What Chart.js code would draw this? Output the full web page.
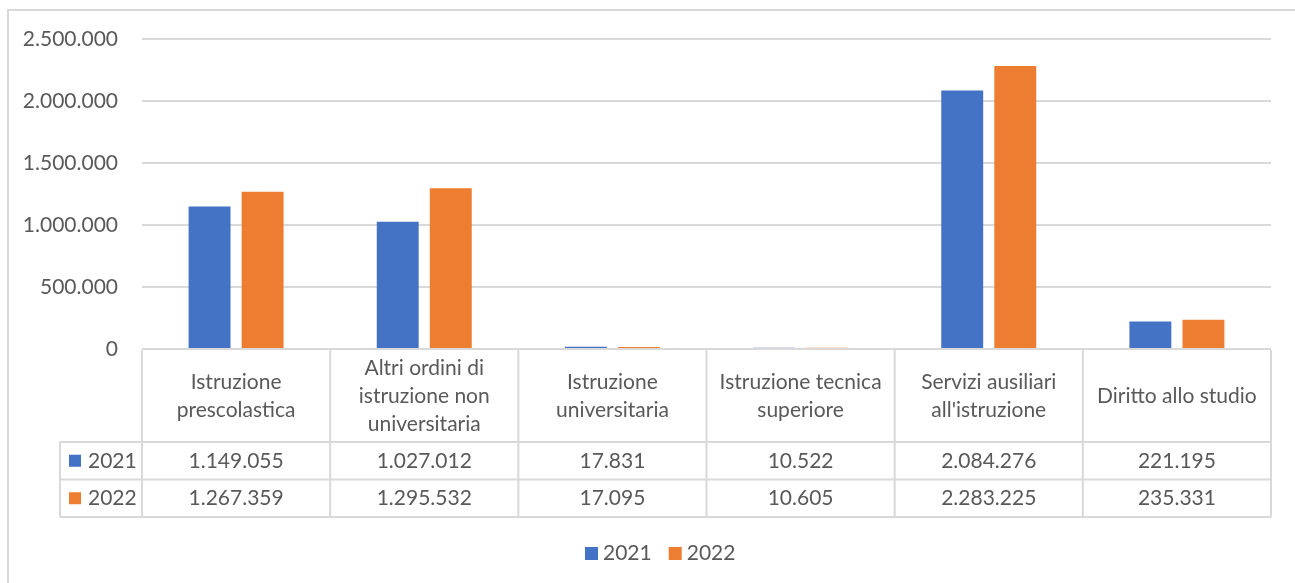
<!DOCTYPE html>
<html>
<head>
<meta charset="utf-8">
<script src="https://cdn.jsdelivr.net/npm/chart.js@4/dist/chart.umd.min.js"></script>
<style>
  html, body { margin: 0; background: #fff; }
  #wrap { width: 1295px; height: 583px; position: relative; }
</style>
</head>
<body>
<div id="wrap"><canvas id="chart"></canvas></div>
<script>
// data
const categories = [
  ["Istruzione", "prescolastica"],
  ["Altri ordini di", "istruzione non", "universitaria"],
  ["Istruzione", "universitaria"],
  ["Istruzione tecnica", "superiore"],
  ["Servizi ausiliari", "all'istruzione"],
  ["Diritto allo studio"]
];
const seriesNames = ["2021", "2022"];
const values2021 = [1149055, 1027012, 17831, 10522, 2084276, 221195];
const values2022 = [1267359, 1295532, 17095, 10605, 2283225, 235331];
const yTicks = [0, 500000, 1000000, 1500000, 2000000, 2500000];
const colors = ["#4472C4", "#ED7D31"];

const TEXT = "#595959";
const LINE = "#d9d9d9";
const FONT = "21px Lato";

// 1234567 -> 1.234.567
function fmt(n) {
  return String(n).replace(/\B(?=(\d{3})+(?!\d))/g, ".");
}

// data table under the plot + legend at bottom
const tablePlugin = {
  id: "dataTable",
  afterDraw(chart) {
    const { ctx, chartArea } = chart;
    const n = categories.length;
    const colW = (chartArea.right - chartArea.left) / n;
    const top = chartArea.bottom + 1;
    const catRowH = 92;
    const rowH = 37.5;
    const keyLeft = 60;
    const allSeries = [values2021, values2022];
    const bottom = top + catRowH + rowH * allSeries.length;

    ctx.save();
    // chart frame (right/bottom edges are outside the picture)
    ctx.strokeStyle = LINE;
    ctx.lineWidth = 2;
    ctx.beginPath();
    ctx.moveTo(8, 600);
    ctx.lineTo(8, 10);
    ctx.lineTo(1300, 10);
    ctx.stroke();

    // table grid
    ctx.beginPath();
    for (let i = 0; i <= n; i++) {
      const x = chartArea.left + i * colW;
      ctx.moveTo(x, top);
      ctx.lineTo(x, bottom);
    }
    ctx.moveTo(keyLeft, top + catRowH);
    ctx.lineTo(keyLeft, bottom);
    for (let r = 0; r <= allSeries.length; r++) {
      const y = top + catRowH + r * rowH;
      ctx.moveTo(keyLeft, y);
      ctx.lineTo(chartArea.right, y);
    }
    ctx.stroke();

    ctx.font = FONT;
    ctx.fillStyle = TEXT;
    ctx.textAlign = "center";
    ctx.textBaseline = "middle";

    // category labels
    const lh = 28;
    categories.forEach((lines, i) => {
      const cx = chartArea.left + (i + 0.5) * colW;
      const cy = top + catRowH / 2;
      lines.forEach((t, k) => {
        ctx.fillText(t, cx, cy + (k - (lines.length - 1) / 2) * lh);
      });
    });

    // value rows
    allSeries.forEach((vals, r) => {
      const cy = top + catRowH + (r + 0.5) * rowH;
      ctx.fillStyle = colors[r];
      ctx.fillRect(69, cy - 6, 12, 12);
      ctx.fillStyle = TEXT;
      ctx.textAlign = "left";
      ctx.fillText(seriesNames[r], 88, cy);
      ctx.textAlign = "center";
      vals.forEach((v, i) => {
        ctx.fillText(fmt(v), chartArea.left + (i + 0.5) * colW, cy);
      });
    });

    // bottom legend
    const ly = 553;
    let lx = 585;
    ctx.textAlign = "left";
    seriesNames.forEach((name, r) => {
      ctx.fillStyle = colors[r];
      ctx.fillRect(lx, ly - 6, 13, 13);
      ctx.fillStyle = TEXT;
      ctx.fillText(name, lx + 18, ly);
      lx += 18 + ctx.measureText(name).width + 17;
    });
    ctx.restore();
  }
};

function draw() {
  new Chart(document.getElementById("chart"), {
    type: "bar",
    data: {
      labels: categories,
      datasets: [
        { label: seriesNames[0], data: values2021, backgroundColor: colors[0] },
        { label: seriesNames[1], data: values2022, backgroundColor: colors[1] }
      ]
    },
    options: {
      responsive: true,
      maintainAspectRatio: false,
      animation: false,
      categoryPercentage: 0.564,
      barPercentage: 0.79,
      layout: { padding: { top: 39, right: 24, bottom: 234, left: 0 } },
      plugins: { legend: { display: false }, tooltip: { enabled: false } },
      scales: {
        x: { display: false },
        y: {
          min: yTicks[0],
          max: yTicks[yTicks.length - 1],
          afterBuildTicks(scale) {
            scale.ticks = yTicks.map((v) => ({ value: v }));
          },
          afterFit(scale) {
            scale.width = 142;
          },
          border: { display: false },
          grid: { color: LINE, lineWidth: 2, drawTicks: false },
          ticks: {
            color: TEXT,
            font: { family: "Lato", size: 21 },
            padding: 24,
            callback: (v) => fmt(v)
          }
        }
      }
    },
    plugins: [tablePlugin]
  });
}

document.fonts.load(FONT).then(draw, draw);
</script>
</body>
</html>
